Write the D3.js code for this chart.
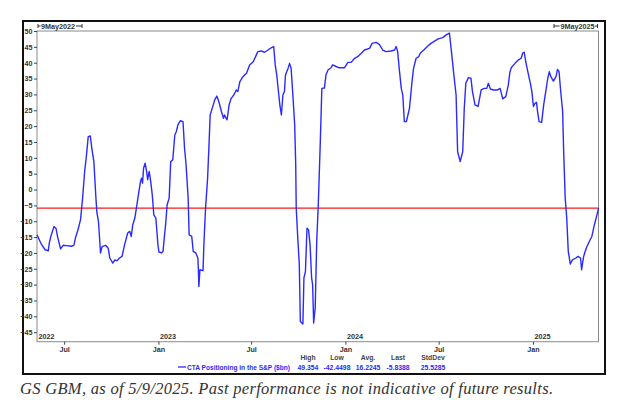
<!DOCTYPE html>
<html><head><meta charset="utf-8">
<script src="https://cdn.jsdelivr.net/npm/d3@7/dist/d3.min.js"></script>
<style>body{margin:0;background:#fff}svg{display:block}</style>
</head><body>
<script>
// ---- data ----
const dates = [
"2022-05-09","2022-05-15","2022-05-18","2022-05-25","2022-05-31","2022-06-02","2022-06-05","2022-06-11","2022-06-15","2022-06-18",
"2022-06-22","2022-06-24","2022-06-29","2022-07-05","2022-07-15","2022-07-20","2022-07-23","2022-07-28","2022-08-02","2022-08-06",
"2022-08-10","2022-08-13","2022-08-17","2022-08-21","2022-08-24","2022-08-28","2022-09-01","2022-09-03","2022-09-06","2022-09-10",
"2022-09-13","2022-09-20","2022-09-25","2022-09-28","2022-10-04","2022-10-08","2022-10-12","2022-10-17","2022-10-22","2022-10-27",
"2022-11-02","2022-11-06","2022-11-09","2022-11-12","2022-11-16","2022-11-20","2022-11-24","2022-11-27","2022-11-29","2022-12-01",
"2022-12-03","2022-12-06","2022-12-09","2022-12-11","2022-12-14","2022-12-17","2022-12-20","2022-12-23","2022-12-27","2022-12-31",
"2023-01-02","2023-01-07","2023-01-10","2023-01-13","2023-01-15","2023-01-18","2023-01-22","2023-01-25","2023-01-29","2023-02-02",
"2023-02-05","2023-02-08","2023-02-13","2023-02-18","2023-02-21","2023-02-24","2023-02-28","2023-03-02","2023-03-07","2023-03-10",
"2023-03-15","2023-03-19","2023-03-20","2023-03-21","2023-03-23","2023-03-29","2023-03-31","2023-04-03","2023-04-07","2023-04-10",
"2023-04-12","2023-04-16","2023-04-21","2023-04-25","2023-04-29","2023-05-04","2023-05-08","2023-05-10","2023-05-13","2023-05-15",
"2023-05-19","2023-05-23","2023-05-26","2023-05-30","2023-06-02","2023-06-05","2023-06-09","2023-06-15","2023-06-22","2023-06-28",
"2023-07-05","2023-07-11","2023-07-14","2023-07-21","2023-07-27","2023-08-03","2023-08-09","2023-08-14","2023-08-17","2023-08-20",
"2023-08-24","2023-08-26","2023-08-29","2023-09-01","2023-09-04","2023-09-06","2023-09-11","2023-09-14","2023-09-17","2023-09-20",
"2023-09-24","2023-09-26","2023-09-27","2023-09-30","2023-10-03","2023-10-05","2023-10-10","2023-10-12","2023-10-15","2023-10-18",
"2023-10-21","2023-10-24","2023-10-27","2023-10-29","2023-10-31","2023-11-03","2023-11-06","2023-11-09","2023-11-13","2023-11-16",
"2023-11-21","2023-11-24","2023-11-28","2023-12-04","2023-12-07","2023-12-14","2023-12-20","2023-12-30","2024-01-06","2024-01-12",
"2024-01-19","2024-01-25","2024-02-01","2024-02-07","2024-02-17","2024-02-22","2024-03-01","2024-03-07","2024-03-14","2024-03-20",
"2024-03-30","2024-04-06","2024-04-09","2024-04-12","2024-04-15","2024-04-19","2024-04-22","2024-04-25","2024-04-29","2024-05-02",
"2024-05-05","2024-05-10","2024-05-13","2024-05-18","2024-05-23","2024-05-26","2024-06-02","2024-06-09","2024-06-16","2024-06-23",
"2024-06-30","2024-07-09","2024-07-15","2024-07-22","2024-07-26","2024-07-30","2024-08-04","2024-08-07","2024-08-12","2024-08-17",
"2024-08-20","2024-08-23","2024-08-28","2024-09-02","2024-09-05","2024-09-10","2024-09-16","2024-09-22","2024-09-28","2024-10-03",
"2024-10-06","2024-10-10","2024-10-16","2024-10-24","2024-10-29","2024-11-03","2024-11-09","2024-11-14","2024-11-17","2024-11-20",
"2024-11-27","2024-12-04","2024-12-09","2024-12-12","2024-12-15","2024-12-18","2024-12-22","2024-12-27","2024-12-30","2025-01-02",
"2025-01-05","2025-01-08","2025-01-10","2025-01-13","2025-01-18","2025-01-22","2025-01-26","2025-01-30","2025-02-02","2025-02-05",
"2025-02-10","2025-02-15","2025-02-18","2025-02-21","2025-02-24","2025-02-28","2025-03-02","2025-03-05","2025-03-08","2025-03-11",
"2025-03-15","2025-03-19","2025-03-26","2025-03-30","2025-04-04","2025-04-06","2025-04-10","2025-04-15","2025-04-21","2025-04-26",
"2025-05-01","2025-05-06","2025-05-09"
];
const values = [
-14.3,-16.4,-17.4,-19,-19.3,-16.9,-14.8,-11.7,-12.2,-14.8,
-17.4,-18.7,-17.6,-17.7,-17.9,-17.6,-15.3,-12.7,-9.5,-2.7,
5.7,9.9,16.7,16.9,13,8.8,-2.7,-7.4,-10.1,-20,
-18,-17.6,-18.5,-21.6,-23.2,-22.2,-22.5,-21.6,-21.1,-17.4,
-13.7,-13.2,-14.8,-11.1,-9,-4.8,-0.6,2.5,3.6,2,
6.7,8.3,5.7,3.1,5.7,2.5,-1.7,-8,-9,-17.4,
-19.7,-20,-19.5,-14.3,-11.1,-4.8,-2.7,8.8,9.4,17.2,
18.3,20.4,21.7,21.4,13,7.8,-2.7,-14.3,-14.8,-19.5,
-20,-21.6,-25.3,-30.6,-25.3,-25.6,-16.4,-5.9,3.6,15.1,
23.5,25.6,28.3,29.5,27.7,24.6,22.5,23.5,22.5,22,
26.7,28.8,29.3,30.4,31.4,30.9,34,35.6,36.7,39.3,
40.3,42.4,43.5,43.7,43.3,44,44.7,45.1,39.3,36.1,
29.8,26.7,23.5,29.8,30.9,36.1,38.2,39.8,38.2,30.9,
20.4,7.8,-5.9,-15.3,-23.7,-41.6,-42.45,-27.9,-25.8,-12.2,
-12.7,-17.4,-27.9,-30,-42.1,-37.4,-16.4,-4.8,15.1,31.9,
32,36.1,37.7,38.4,39.3,38.8,38.4,38.4,40.1,40.1,
41.4,41.9,43,44,44.5,46.1,46.4,45.8,44,43.5,
43.7,44,45.1,43.5,38.2,31.9,29.8,21.4,21.4,23.5,
25.6,34,38.2,41.4,41.9,43,44,45.1,46.1,46.8,
47.5,47.9,48.7,49.354,43.5,37.2,29.8,12,8.8,12,
25.6,33.5,35.3,35.1,30.9,26.7,26.2,31.4,31.9,31.9,
33.5,31.7,31.4,31.4,31.9,28.6,29.3,33,37,38.5,
39.8,40.9,41.4,43,43.3,40.3,37.2,33.5,30.9,26.2,
27.2,27.5,24.6,21.4,21.2,26.7,30.9,35.1,37.2,35.6,
34.2,35.6,37.9,37.2,31.4,24.6,12,-2.7,-9,-19.5,
-23.5,-22.2,-21.6,-21.1,-21.6,-25.3,-21.1,-18.5,-16.4,-14.8,
-11.1,-8,-5.8388
];
const yTicks = [50,45,40,35,30,25,20,15,10,5,0,-5,-10,-15,-20,-25,-30,-35,-40,-45];
const monthTicks = ["2022-07-01","2023-01-01","2023-07-01","2024-01-01","2024-07-01","2025-01-01"];
const monthLabels = ["Jul","Jan","Jul","Jan","Jul","Jan"];
const yearStarts = ["2022-05-09","2023-01-01","2024-01-01","2025-01-01"];
const yearLabels = ["2022","2023","2024","2025"];
const startLabel = "9May2022", endLabel = "9May2025";
const seriesName = "CTA Positioning in the S&P ($bn)";
const statNames = ["High","Low","Avg.","Last","StdDev"];
const statValues = ["49.354","-42.4498","16.2245","-5.8388","25.5285"];
const refLevel = -5.8388;
const caption = "GS GBM, as of 5/9/2025. Past performance is not indicative of future results.";

// ---- drawing ----
const W = 621, H = 400;
const P = {l: 37, r: 598.5, t: 31, b: 341.7};
const parse = d3.timeParse("%Y-%m-%d");
const svg = d3.select("body").append("svg").attr("width", W).attr("height", H);
const font = "'Liberation Sans', Arial, sans-serif";

const x = d3.scaleTime().domain([parse("2022-05-09"), parse("2025-05-09")]).range([P.l, P.r]);
const y = d3.scaleLinear().domain([-48, 50]).range([P.b, P.t]);

// outer frame
svg.append("rect").attr("x", 23).attr("y", 21).attr("width", 582).attr("height", 353)
  .attr("fill", "#fff").attr("stroke", "#111").attr("stroke-width", 2);
// plot area
svg.append("rect").attr("x", P.l).attr("y", P.t).attr("width", P.r - P.l).attr("height", P.b - P.t)
  .attr("fill", "#fff").attr("stroke", "#8a8a8a").attr("stroke-width", 1);

// y axis
const yAxis = d3.axisLeft(y).tickValues(yTicks).tickSize(3).tickPadding(1.5);
const gy = svg.append("g").attr("transform", `translate(${P.l},0)`).call(yAxis);
gy.select(".domain").remove();
gy.selectAll("line").attr("stroke", "#444");
gy.selectAll("text").attr("font-family", font).attr("font-size", 7.2).attr("font-weight", "bold").attr("fill", "#333");

// x axis (month ticks)
const xAxis = d3.axisBottom(x).tickValues(monthTicks.map(parse)).tickSize(3).tickPadding(2)
  .tickFormat((d, i) => monthLabels[i]);
const gx = svg.append("g").attr("transform", `translate(0,${P.b})`).call(xAxis);
gx.select(".domain").remove();
gx.selectAll("line").attr("stroke", "#444");
gx.selectAll("text").attr("font-family", font).attr("font-size", 7.2).attr("font-weight", "bold").attr("fill", "#333");

// year labels inside plot
svg.append("g").selectAll("text").data(yearStarts).join("text")
  .attr("x", d => x(parse(d)) + 1.5).attr("y", P.b - 2.5)
  .attr("font-family", font).attr("font-size", 7.2).attr("font-weight", "bold").attr("fill", "#333")
  .text((d, i) => yearLabels[i]);

// top date markers
function marker(xStart, xEnd, label, align) {
  const g = svg.append("g");
  const t = g.append("text").attr("y", 28.6).attr("font-family", font).attr("font-size", 7.2)
    .attr("font-weight", "bold").attr("fill", "#333").text(label);
  const w = t.node().getComputedTextLength();
  let tx;
  if (align === "left") { tx = xStart + 3; } else { tx = xEnd - 3 - w; }
  t.attr("x", tx);
  const ly = 26;
  g.append("line").attr("x1", xStart).attr("x2", xStart).attr("y1", 24).attr("y2", 28).attr("stroke", "#333");
  g.append("line").attr("x1", xEnd).attr("x2", xEnd).attr("y1", 24).attr("y2", 28).attr("stroke", "#333");
  if (align === "left") {
    g.append("line").attr("x1", xStart).attr("x2", tx - 0.5).attr("y1", ly).attr("y2", ly).attr("stroke", "#333");
    g.append("line").attr("x1", tx + w + 1).attr("x2", xEnd).attr("y1", ly).attr("y2", ly).attr("stroke", "#333");
  } else {
    g.append("line").attr("x1", xStart).attr("x2", tx - 1).attr("y1", ly).attr("y2", ly).attr("stroke", "#333");
    g.append("line").attr("x1", tx + w + 0.5).attr("x2", xEnd).attr("y1", ly).attr("y2", ly).attr("stroke", "#333");
  }
}
marker(38, 82, startLabel, "left");
marker(554, 597.5, endLabel, "right");

// reference line
svg.append("line").attr("x1", P.l).attr("x2", P.r).attr("y1", y(refLevel)).attr("y2", y(refLevel))
  .attr("stroke", "#ff1a1a").attr("stroke-width", 1.3);

// series line
const data = dates.map((d, i) => ({date: parse(d), v: values[i]}));
svg.append("path").datum(data)
  .attr("fill", "none").attr("stroke", "#2a2aff").attr("stroke-width", 1.4).attr("stroke-linejoin", "round")
  .attr("d", d3.line().x(d => x(d.date)).y(d => y(d.v)));

// legend
const statX = [308, 337, 368, 398, 433];
const lg = svg.append("g").attr("font-family", font).attr("font-size", 6.8).attr("font-weight", "bold");
lg.selectAll(".hdr").data(statNames).join("text").attr("class", "hdr")
  .attr("x", (d, i) => statX[i]).attr("y", 360).attr("text-anchor", "middle").attr("fill", "#444").text(d => d);
lg.selectAll(".val").data(statValues).join("text").attr("class", "val")
  .attr("x", (d, i) => statX[i]).attr("y", 369.5).attr("text-anchor", "middle").attr("fill", "#2a2aff").text(d => d);
lg.append("line").attr("x1", 178).attr("x2", 186).attr("y1", 367).attr("y2", 367).attr("stroke", "#2a2aff").attr("stroke-width", 1.3);
lg.append("text").attr("x", 187).attr("y", 369.5).attr("fill", "#2a2aff").attr("textLength", 103)
  .attr("lengthAdjust", "spacingAndGlyphs").text(seriesName);

// caption
svg.append("text").attr("x", 20).attr("y", 393.5)
  .attr("font-family", "'Liberation Serif', 'Times New Roman', serif").attr("font-style", "italic")
  .attr("font-size", 16.5).attr("fill", "#333")
  .attr("textLength", 533).attr("lengthAdjust", "spacing").text(caption);
</script>
</body></html>
